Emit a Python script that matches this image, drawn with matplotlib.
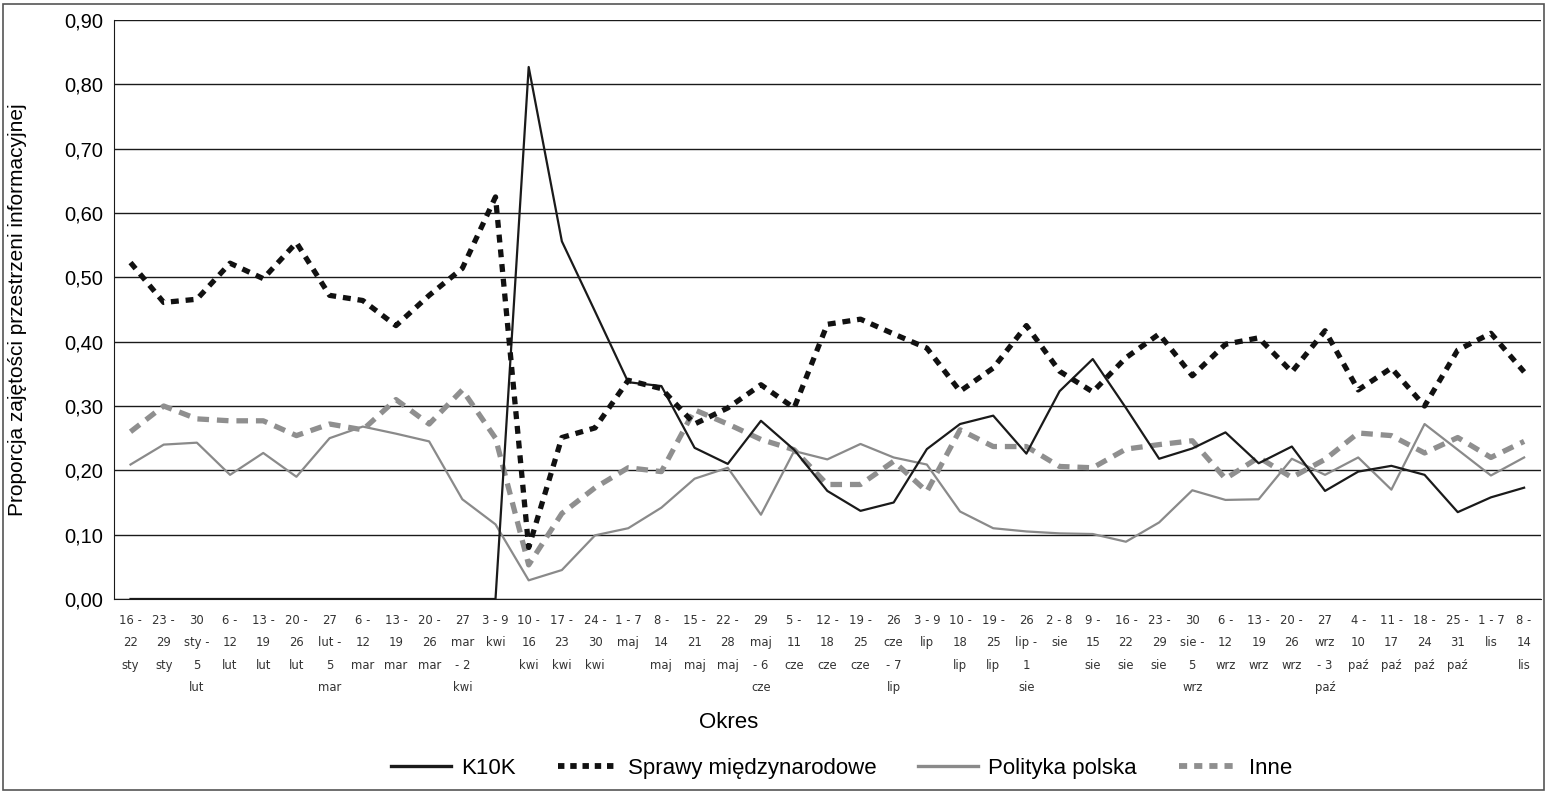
import numpy as np
import matplotlib
matplotlib.use("Agg")
import matplotlib.pyplot as plt
from matplotlib.lines import Line2D
from matplotlib.patches import Rectangle
from matplotlib.ticker import FuncFormatter

plt.rcParams['font.family'] = ['Liberation Sans', 'DejaVu Sans']

# tygodnie (os X)
okresy = [
    "16 -\n22\nsty", "23 -\n29\nsty", "30\nsty -\n5\nlut", "6 -\n12\nlut",
    "13 -\n19\nlut", "20 -\n26\nlut", "27\nlut -\n5\nmar", "6 -\n12\nmar",
    "13 -\n19\nmar", "20 -\n26\nmar", "27\nmar\n- 2\nkwi", "3 - 9\nkwi",
    "10 -\n16\nkwi", "17 -\n23\nkwi", "24 -\n30\nkwi", "1 - 7\nmaj",
    "8 -\n14\nmaj", "15 -\n21\nmaj", "22 -\n28\nmaj", "29\nmaj\n- 6\ncze",
    "5 -\n11\ncze", "12 -\n18\ncze", "19 -\n25\ncze", "26\ncze\n- 7\nlip",
    "3 - 9\nlip", "10 -\n18\nlip", "19 -\n25\nlip", "26\nlip -\n1\nsie",
    "2 - 8\nsie", "9 -\n15\nsie", "16 -\n22\nsie", "23 -\n29\nsie",
    "30\nsie -\n5\nwrz", "6 -\n12\nwrz", "13 -\n19\nwrz", "20 -\n26\nwrz",
    "27\nwrz\n- 3\npaź", "4 -\n10\npaź", "11 -\n17\npaź", "18 -\n24\npaź",
    "25 -\n31\npaź", "1 - 7\nlis", "8 -\n14\nlis",
]

k10k = [0, 0, 0, 0, 0, 0, 0, 0, 0, 0, 0, 0,
        0.827, 0.556, 0.447, 0.337, 0.331, 0.235, 0.210, 0.277,
        0.232, 0.168, 0.137, 0.150, 0.233, 0.272, 0.285, 0.226,
        0.323, 0.373, 0.297, 0.218, 0.234, 0.259, 0.211, 0.237,
        0.168, 0.198, 0.207, 0.193, 0.135, 0.158, 0.173]

sprawy = [0.523, 0.461, 0.466, 0.522, 0.498, 0.554, 0.472, 0.464, 0.425,
          0.472, 0.514, 0.625, 0.080, 0.251, 0.266, 0.340, 0.327, 0.272,
          0.297, 0.333, 0.297, 0.427, 0.435, 0.412, 0.390, 0.323, 0.359,
          0.425, 0.354, 0.322, 0.375, 0.412, 0.347, 0.396, 0.406, 0.353,
          0.417, 0.325, 0.359, 0.300, 0.387, 0.413, 0.353]

polityka = [0.209, 0.240, 0.243, 0.193, 0.227, 0.190, 0.250, 0.268, 0.257,
            0.245, 0.155, 0.116, 0.029, 0.045, 0.099, 0.110, 0.142, 0.187,
            0.204, 0.131, 0.230, 0.217, 0.241, 0.220, 0.209, 0.136, 0.110,
            0.105, 0.102, 0.101, 0.089, 0.119, 0.169, 0.154, 0.155, 0.218,
            0.193, 0.220, 0.170, 0.272, 0.232, 0.192, 0.220]

inne = [0.260, 0.300, 0.280, 0.277, 0.277, 0.254, 0.272, 0.263, 0.310,
        0.272, 0.325, 0.250, 0.053, 0.133, 0.173, 0.204, 0.198, 0.294,
        0.272, 0.248, 0.232, 0.178, 0.178, 0.214, 0.167, 0.263, 0.237,
        0.237, 0.206, 0.204, 0.233, 0.240, 0.246, 0.187, 0.220, 0.189,
        0.217, 0.258, 0.254, 0.227, 0.251, 0.220, 0.245]

x = np.arange(len(okresy))

fig = plt.figure(figsize=(15.5, 7.92), dpi=100)
ax = fig.add_axes([0.0735, 0.2437, 0.9205, 0.731])

ax.plot(x, k10k, color="#1a1a1a", lw=1.6, label="K10K", zorder=4)
ax.plot(x, sprawy, color="#111111", lw=3.8, dashes=(1.5, 1.3),
        label="Sprawy międzynarodowe", zorder=5)
ax.plot(x, polityka, color="#8a8a8a", lw=1.6, label="Polityka polska", zorder=3)
ax.plot(x, inne, color="#8f8f8f", lw=3.8, dashes=(2.2, 1.5),
        label="Inne", zorder=3)

ax.set_xlim(-0.5, len(okresy) - 0.5)
ax.set_ylim(0, 0.9)
ax.set_yticks(np.arange(0, 0.91, 0.1))
ax.yaxis.set_major_formatter(FuncFormatter(lambda v, p: f"{v:.2f}".replace(".", ",")))
ax.grid(axis="y", color="#1a1a1a", lw=1.0)
ax.set_axisbelow(True)
ax.tick_params(axis="y", length=0, labelsize=14.5, pad=8)
ax.tick_params(axis="x", length=0, pad=11)
ax.set_xticks(x)
ax.set_xticklabels(okresy, fontsize=8.4, color="#333333", linespacing=1.92,
                   va="top", family="DejaVu Sans")

for s in ["top", "right"]:
    ax.spines[s].set_visible(False)
ax.spines["left"].set_color("#1a1a1a")
ax.spines["bottom"].set_color("#1a1a1a")

ax.set_ylabel("Proporcja zajętości przestrzeni informacyjnej", fontsize=15)
ax.yaxis.set_label_coords(-0.061, 0.5)
fig.text(0.47, 0.088, "Okres", fontsize=16, ha="center", va="center")

handles = [
    Line2D([], [], color="#1a1a1a", lw=2.4),
    Line2D([], [], color="#111111", lw=4.2, dashes=(1.1, 1.0)),
    Line2D([], [], color="#8a8a8a", lw=2.4),
    Line2D([], [], color="#8f8f8f", lw=4.2, dashes=(1.4, 1.2)),
]
labels = ["K10K", "Sprawy międzynarodowe", "Polityka polska", "Inne"]
fig.legend(handles, labels, loc="center", bbox_to_anchor=(0.543, 0.03),
           ncol=4, frameon=False, fontsize=16, handlelength=2.7,
           columnspacing=1.9, handletextpad=0.45)

fig.patches.append(Rectangle((0.002, 0.003), 0.994, 0.992, transform=fig.transFigure,
                             fill=False, edgecolor="#555555", lw=1.2))

fig.savefig("out.png", dpi=100)
